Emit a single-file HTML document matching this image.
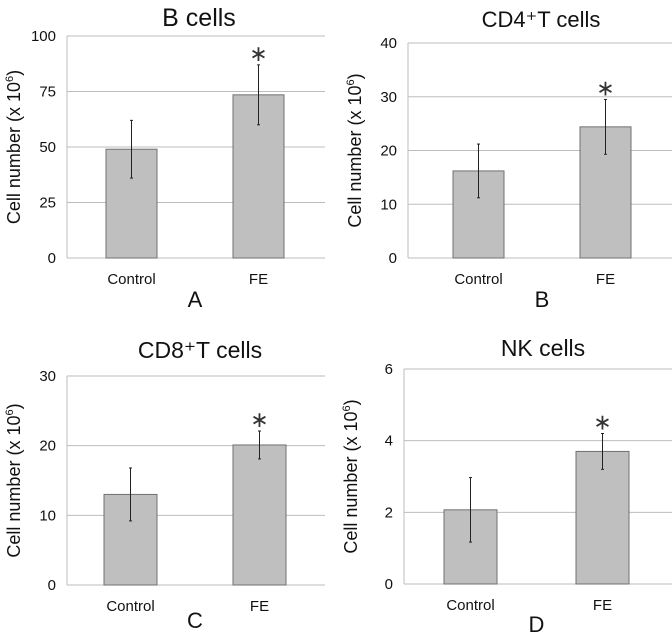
<!DOCTYPE html>
<html><head><meta charset="utf-8">
<style>
body{margin:0;background:#fff;width:672px;height:636px;overflow:hidden;font-family:"Liberation Sans",sans-serif}
svg text{font-family:"Liberation Sans",sans-serif}
</style></head>
<body>
<svg id="s" width="672" height="636" xmlns="http://www.w3.org/2000/svg"></svg>
<script>
const categories=["Control","FE"];
const bValues=[49,73.5], bErr=[13,13.5], bTicks=[0,25,50,75,100];
const cd4Values=[16.2,24.4], cd4Err=[5,5.1], cd4Ticks=[0,10,20,30,40];
const cd8Values=[13,20.1], cd8Err=[3.8,2], cd8Ticks=[0,10,20,30];
const nkValues=[2.07,3.7], nkErr=[0.9,0.5], nkTicks=[0,2,4,6];
const titles=["B cells","CD4⁺T cells","CD8⁺T cells","NK cells"];
const letters=["A","B","C","D"];

const svg=document.getElementById('s');
const NS="http://www.w3.org/2000/svg";
function mk(tag,attrs,parent){const e=document.createElementNS(NS,tag);for(const k in attrs)e.setAttribute(k,attrs[k]);(parent||svg).appendChild(e);return e;}

const panels=[
 {vals:bValues,err:bErr,ticks:bTicks,L:67,R:325,T:36,B:258,bx:[106,233],bw:51,tx:199,ty:26,ly:307,cy:279,name:'b-cells',ts:25},
 {vals:cd4Values,err:cd4Err,ticks:cd4Ticks,L:408,R:672,T:43,B:258,bx:[453,580],bw:51,tx:541,ty:27,ly:307,cy:279,name:'cd4',ts:22},
 {vals:cd8Values,err:cd8Err,ticks:cd8Ticks,L:67,R:325,T:376,B:585,bx:[104,233],bw:53,tx:200,ty:358,ly:628,cy:605,name:'cd8',ts:23},
 {vals:nkValues,err:nkErr,ticks:nkTicks,L:404,R:672,T:369,B:584,bx:[444,576],bw:53,tx:543,ty:356,ly:632,cy:605,name:'nk',ts:23}
];
panels.forEach((p,i)=>{
 const g=mk('g',{});
 
 
 const max=p.ticks[p.ticks.length-1];
 const y=v=>p.B-(v/max)*(p.B-p.T);
 p.ticks.forEach(t=>{
  const l=mk('line',{x1:p.L,x2:p.R,y1:y(t),y2:y(t),stroke:'#bdbdbd','stroke-width':1},g);
  
  
  const tx=mk('text',{x:p.L-11,y:y(t)+5,'text-anchor':'end','font-size':15,fill:'#111'},g);
  tx.textContent=t;
  
  
 });
 const ax=mk('line',{x1:p.L,x2:p.L,y1:p.T,y2:p.B,stroke:'#bdbdbd','stroke-width':1},g);
 
 
 p.vals.forEach((v,j)=>{
  const x0=p.bx[j];
  const r=mk('rect',{x:x0,y:y(v),width:p.bw,height:p.B-y(v),fill:'#bfbfbf',stroke:'#707070','stroke-width':1},g);
  
  
  const cx=x0+p.bw/2;
  const e=mk('line',{x1:cx,x2:cx,y1:y(v+p.err[j]),y2:y(v-p.err[j]),stroke:'#222','stroke-width':1},g);
  
  
  [v+p.err[j],v-p.err[j]].forEach(ev=>{mk('line',{x1:cx-1.5,x2:cx+1.5,y1:y(ev),y2:y(ev),stroke:'#222','stroke-width':1},g);});
  const c=mk('text',{x:cx,y:p.B+26,'text-anchor':'middle','font-size':15,fill:'#111'},g);
  c.textContent=categories[j];
  
  
  if(j===1){
   const s=mk('text',{x:cx,y:y(v+p.err[j])-4,'text-anchor':'middle','font-size':22,fill:'#333','font-family':'DejaVu Sans'},g);
   s.textContent='∗';
   
   
  }
 });
 const t=mk('text',{x:p.tx,y:p.ty,'text-anchor':'middle','font-size':p.ts,fill:'#111'},g);
 t.textContent=titles[i];
 
 
 const yt=mk('text',{x:0,y:0,'text-anchor':'middle','font-size':18,fill:'#111',transform:`translate(${p.L-47},${(p.T+p.B)/2}) rotate(-90)`},g);
 yt.innerHTML='Cell number (x 10<tspan dy="-7" font-size="11">6</tspan><tspan dy="7">)</tspan>';
 
 
 const lt=mk('text',{x:(p.bx[0]+p.bx[1]+p.bw)/2,y:p.ly,'text-anchor':'middle','font-size':22,fill:'#111'},g);
 lt.textContent=letters[i];
 
 
});
</script>
</body></html>
